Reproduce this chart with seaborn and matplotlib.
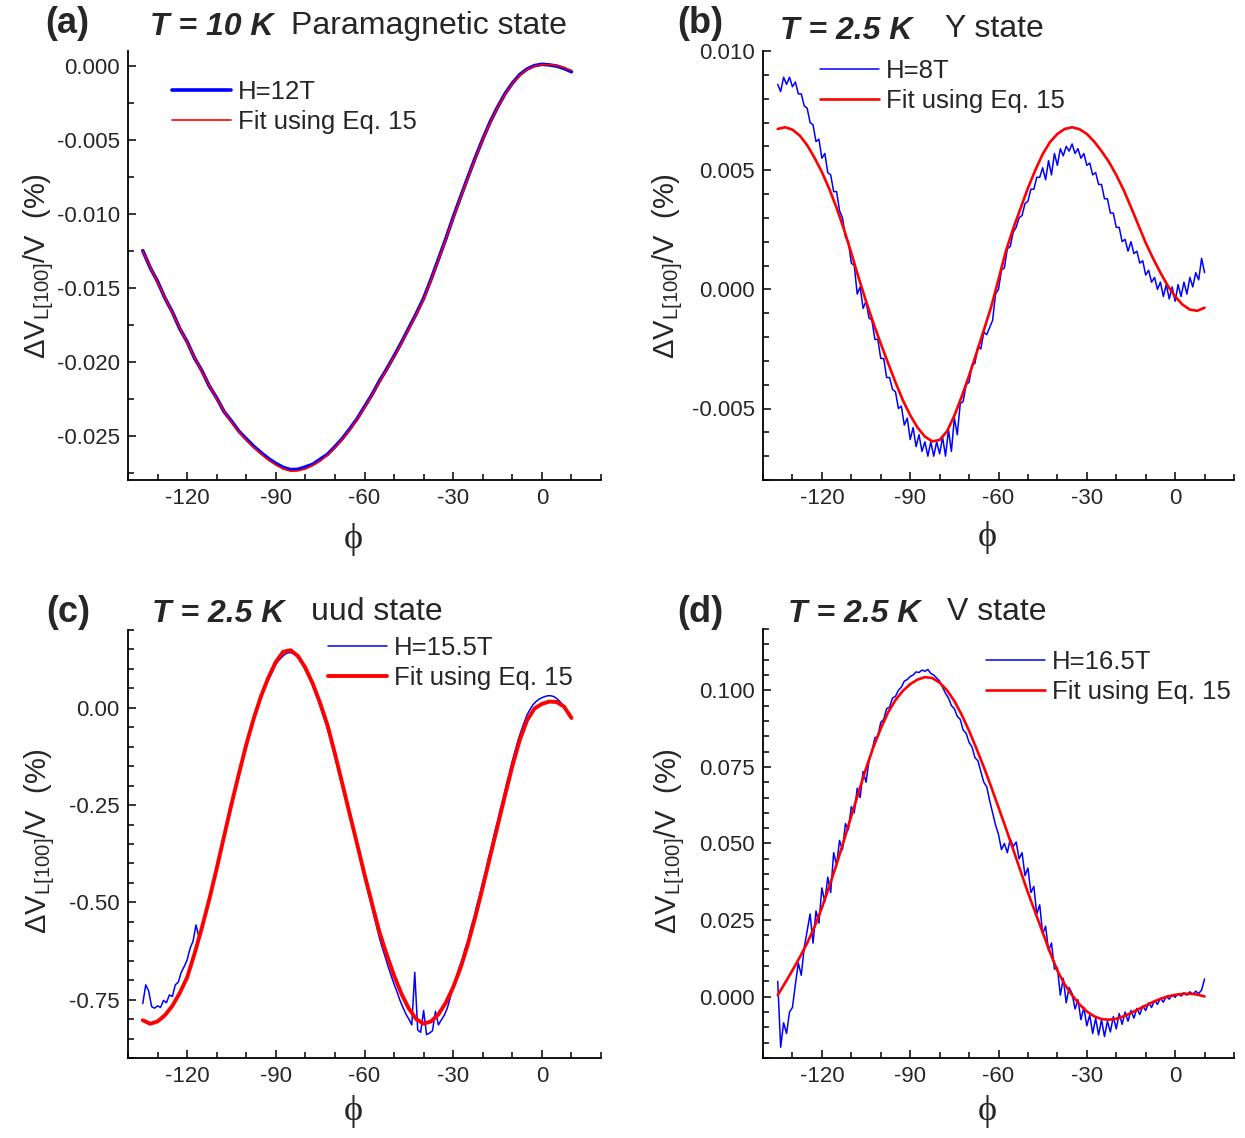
import numpy as np
import matplotlib
matplotlib.use("Agg")
import matplotlib.pyplot as plt
import seaborn as sns
from matplotlib.ticker import MultipleLocator, FuncFormatter

# angle grids (degrees)
phi_fit = np.arange(-135, 10.01, 2.5)   # fit curves
phi_meas = np.arange(-135, 11, 1)        # measured traces
phi_a_meas = phi_fit                     # panel a trace read at the fit spacing

# (a) T = 10 K, H = 12 T
a_meas = [-0.01250, -0.01364, -0.01458, -0.01570, -0.01665, -0.01776, -0.01866, -0.01975, -0.02062, -0.02165,
          -0.02246, -0.02338, -0.02402, -0.02470, -0.02522, -0.02572, -0.02615, -0.02655, -0.02688, -0.02715,
          -0.02730, -0.02728, -0.02712, -0.02694, -0.02660, -0.02626, -0.02575, -0.02520, -0.02455, -0.02386,
          -0.02305, -0.02224, -0.02133, -0.02050, -0.01962, -0.01870, -0.01773, -0.01676, -0.01572, -0.01444,
          -0.01308, -0.01170, -0.01024, -0.00887, -0.00752, -0.00620, -0.00496, -0.00380, -0.00280, -0.00190,
          -0.00118, -0.00060, -0.00022, 0.00001, 0.00010, 0.00006, -0.00002, -0.00018, -0.00040]
a_fit = [-0.01255, -0.01360, -0.01463, -0.01567, -0.01670, -0.01772, -0.01872, -0.01972, -0.02068, -0.02162,
         -0.02252, -0.02335, -0.02410, -0.02475, -0.02530, -0.02580, -0.02625, -0.02665, -0.02698, -0.02725,
         -0.02740, -0.02738, -0.02725, -0.02702, -0.02672, -0.02632, -0.02582, -0.02525, -0.02462, -0.02390,
         -0.02312, -0.02228, -0.02140, -0.02055, -0.01968, -0.01875, -0.01780, -0.01682, -0.01580, -0.01450,
         -0.01315, -0.01175, -0.01030, -0.00892, -0.00757, -0.00625, -0.00500, -0.00385, -0.00283, -0.00195,
         -0.00122, -0.00065, -0.00025, -0.00003, 0.00007, 0.00008, 0.00002, -0.00012, -0.00032]

# (b) T = 2.5 K, H = 8 T
b_meas = [0.0086, 0.0083, 0.0089, 0.0086, 0.0089, 0.0085, 0.0087, 0.0082, 0.0082, 0.0077,
          0.0076, 0.0070, 0.0069, 0.0062, 0.0063, 0.0055, 0.0057, 0.0049, 0.0048, 0.0041,
          0.0041, 0.0033, 0.0030, 0.0022, 0.0020, 0.0011, 0.0010, -0.0002, 0.0001, -0.0008,
          -0.0005, -0.0012, -0.0013, -0.0021, -0.0021, -0.0029, -0.0029, -0.0037, -0.0037, -0.0042,
          -0.0043, -0.0050, -0.0049, -0.0057, -0.0054, -0.0063, -0.0058, -0.0066, -0.0061, -0.0068,
          -0.0064, -0.0070, -0.0064, -0.0070, -0.0064, -0.0069, -0.0062, -0.0070, -0.0059, -0.0068,
          -0.0054, -0.0061, -0.0048, -0.0047, -0.0040, -0.0039, -0.0032, -0.0031, -0.0024, -0.0025,
          -0.0018, -0.0019, -0.0016, -0.0013, -0.0002, 0.0000, 0.0008, 0.0009, 0.0017, 0.0018,
          0.0024, 0.0026, 0.0030, 0.0031, 0.0036, 0.0037, 0.0042, 0.0042, 0.0047, 0.0047,
          0.0051, 0.0046, 0.0054, 0.0048, 0.0057, 0.0052, 0.0059, 0.0056, 0.0060, 0.0058,
          0.0061, 0.0057, 0.0059, 0.0055, 0.0057, 0.0052, 0.0053, 0.0048, 0.0049, 0.0044,
          0.0044, 0.0038, 0.0038, 0.0032, 0.0032, 0.0026, 0.0026, 0.0020, 0.0021, 0.0016,
          0.0020, 0.0015, 0.0016, 0.0011, 0.0012, 0.0006, 0.0008, 0.0003, 0.0005, 0.0000,
          0.0003, -0.0003, 0.0002, -0.0004, 0.0001, -0.0005, 0.0002, -0.0003, 0.0003, -0.0002,
          0.0005, 0.0001, 0.0007, 0.0004, 0.0013, 0.0007]
b_fit = [0.00673, 0.00680, 0.00670, 0.00645, 0.00605, 0.00552, 0.00492, 0.00422, 0.00342, 0.00252,
         0.00152, 0.00048, -0.00050, -0.00142, -0.00228, -0.00310, -0.00390, -0.00465, -0.00528, -0.00580,
         -0.00618, -0.00638, -0.00632, -0.00596, -0.00530, -0.00450, -0.00362, -0.00268, -0.00172, -0.00074,
         0.00042, 0.00160, 0.00255, 0.00340, 0.00425, 0.00500, 0.00567, 0.00618, 0.00652, 0.00673,
         0.00680, 0.00672, 0.00652, 0.00620, 0.00580, 0.00535, 0.00480, 0.00417, 0.00345, 0.00270,
         0.00195, 0.00130, 0.00070, 0.00015, -0.00030, -0.00064, -0.00085, -0.00090, -0.00077]

# (c) T = 2.5 K, H = 15.5 T
c_meas = [-0.760, -0.712, -0.728, -0.768, -0.772, -0.766, -0.770, -0.752, -0.758, -0.738,
          -0.742, -0.712, -0.705, -0.680, -0.665, -0.648, -0.618, -0.600, -0.558, -0.590,
          -0.568, -0.533, -0.507, -0.471, -0.446, -0.410, -0.382, -0.346, -0.318, -0.282,
          -0.252, -0.218, -0.190, -0.158, -0.128, -0.097, -0.070, -0.042, -0.020, 0.006,
          0.026, 0.046, 0.064, 0.080, 0.095, 0.112, 0.122, 0.130, 0.137, 0.141,
          0.142, 0.139, 0.133, 0.124, 0.112, 0.097, 0.082, 0.066, 0.046, 0.026,
          0.004, -0.020, -0.041, -0.068, -0.096, -0.126, -0.156, -0.188, -0.218, -0.249,
          -0.281, -0.310, -0.332, -0.368, -0.405, -0.436, -0.468, -0.498, -0.528, -0.560,
          -0.590, -0.616, -0.640, -0.665, -0.688, -0.710, -0.730, -0.752, -0.770, -0.787,
          -0.800, -0.815, -0.680, -0.828, -0.834, -0.778, -0.840, -0.836, -0.830, -0.780,
          -0.815, -0.802, -0.790, -0.772, -0.745, -0.716, -0.694, -0.668, -0.648, -0.620,
          -0.598, -0.565, -0.540, -0.508, -0.480, -0.447, -0.419, -0.384, -0.355, -0.321,
          -0.292, -0.259, -0.231, -0.197, -0.168, -0.137, -0.110, -0.082, -0.059, -0.038,
          -0.018, -0.004, 0.008, 0.016, 0.022, 0.026, 0.029, 0.031, 0.031, 0.029,
          0.024, 0.017, 0.008, -0.003, -0.014, -0.026]
c_fit = [-0.803, -0.812, -0.806, -0.790, -0.766, -0.733, -0.693, -0.632, -0.565, -0.492,
         -0.413, -0.330, -0.248, -0.170, -0.095, -0.028, 0.030, 0.078, 0.118, 0.144,
         0.148, 0.133, 0.103, 0.062, 0.012, -0.045, -0.118, -0.195, -0.273, -0.350,
         -0.428, -0.502, -0.575, -0.634, -0.688, -0.735, -0.773, -0.800, -0.812, -0.806,
         -0.788, -0.758, -0.718, -0.668, -0.607, -0.537, -0.461, -0.382, -0.304, -0.226,
         -0.150, -0.083, -0.032, -0.002, 0.010, 0.016, 0.015, 0.003, -0.026]

# (d) T = 2.5 K, H = 16.5 T
d_meas = [0.0050, -0.0165, -0.0085, -0.0120, -0.0050, -0.0035, 0.0040, 0.0110, 0.0070, 0.0160,
          0.0215, 0.0270, 0.0175, 0.0280, 0.0240, 0.0355, 0.0310, 0.0390, 0.0340, 0.0470,
          0.0430, 0.0510, 0.0480, 0.0565, 0.0545, 0.0620, 0.0600, 0.0680, 0.0650, 0.0735,
          0.0700, 0.0770, 0.0800, 0.0845, 0.0850, 0.0895, 0.0905, 0.0940, 0.0945, 0.0975,
          0.0980, 0.1000, 0.1010, 0.1030, 0.1035, 0.1045, 0.1050, 0.1060, 0.1058, 0.1066,
          0.1062, 0.1068, 0.1055, 0.1050, 0.1040, 0.1030, 0.1010, 0.0990, 0.0975, 0.0950,
          0.0940, 0.0915, 0.0905, 0.0870, 0.0860, 0.0830, 0.0815, 0.0780, 0.0770, 0.0735,
          0.0700, 0.0685, 0.0640, 0.0600, 0.0560, 0.0530, 0.0480, 0.0500, 0.0470, 0.0515,
          0.0490, 0.0505, 0.0450, 0.0470, 0.0395, 0.0420, 0.0340, 0.0360, 0.0270, 0.0300,
          0.0205, 0.0230, 0.0150, 0.0175, 0.0090, 0.0095, 0.0005, 0.0060, -0.0020, 0.0030,
          0.0010, -0.0040, -0.0010, -0.0075, -0.0035, -0.0095, -0.0060, -0.0120, -0.0070, -0.0125,
          -0.0075, -0.0130, -0.0080, -0.0115, -0.0065, -0.0105, -0.0055, -0.0090, -0.0050, -0.0080,
          -0.0045, -0.0070, -0.0038, -0.0058, -0.0030, -0.0045, -0.0020, -0.0035, -0.0012, -0.0025,
          -0.0005, -0.0018, 0.0001, -0.0008, 0.0006, -0.0002, 0.0010, 0.0002, 0.0013, 0.0005,
          0.0016, 0.0008, 0.0018, 0.0010, 0.0022, 0.0058]
d_fit = [0.0005, 0.0045, 0.0086, 0.0129, 0.0175, 0.0228, 0.0290, 0.0360, 0.0432, 0.0510,
         0.0590, 0.0668, 0.0745, 0.0815, 0.0875, 0.0928, 0.0968, 0.0998, 0.1020, 0.1035,
         0.1043, 0.1040, 0.1025, 0.1000, 0.0965, 0.0920, 0.0868, 0.0810, 0.0750, 0.0685,
         0.0618, 0.0550, 0.0480, 0.0410, 0.0340, 0.0275, 0.0210, 0.0145, 0.0085, 0.0040,
         0.0005, -0.0025, -0.0048, -0.0064, -0.0073, -0.0075, -0.0072, -0.0064, -0.0053, -0.0041,
         -0.0029, -0.0017, -0.0007, 0.0001, 0.0006, 0.0009, 0.0010, 0.0007, 0.0001]

sns.set_theme(style="ticks")
plt.rcParams['font.family'] = ['Liberation Sans', 'DejaVu Sans']
plt.rcParams['axes.unicode_minus'] = False
plt.rcParams['mathtext.default'] = 'regular'

W, H = 1245, 1138
fig = plt.figure(figsize=(W / 100, H / 100), dpi=100)


def fx(x):
    return x / W


def fy(y):
    return 1 - y / H


def tick_fmt(fmt):
    # avoid "-0.000" at the zero tick
    def f(v, pos):
        s = fmt % v
        if float(s) == 0:
            s = fmt % 0.0
        return s
    return FuncFormatter(f)


panels = [
    dict(box=(128, 51, 601, 480), px=phi_a_meas, meas=a_meas, fit=a_fit, field="H=12T",
         ylim=(-0.028, 0.001), major=0.005, minor=0.0025, fmt='%.3f',
         lw_meas=2.6, lw_fit=1.2,
         letter=("(a)", 45, 33), tpart=("T = 10 K", 150, 35), state=("Paramagnetic state", 291, 34),
         ylab=(39, 266), phi=(353, 540), leg=(172, 80)),
    dict(box=(763, 51, 1234, 480), px=phi_meas, meas=b_meas, fit=b_fit, field="H=8T",
         ylim=(-0.008, 0.010), major=0.005, minor=0.001, fmt='%.3f',
         lw_meas=1.1, lw_fit=1.9,
         letter=("(b)", 677, 33), tpart=("T = 2.5 K", 780, 39), state=("Y state", 945, 37),
         ylab=(668, 266), phi=(987, 537), leg=(820, 59)),
    dict(box=(128, 630, 601, 1058), px=phi_meas, meas=c_meas, fit=c_fit, field="H=15.5T",
         ylim=(-0.9, 0.2), major=0.25, minor=0.05, fmt='%.2f',
         lw_meas=1.1, lw_fit=2.8,
         letter=("(c)", 46, 622), tpart=("T = 2.5 K", 152, 622), state=("uud state", 311, 620),
         ylab=(40, 841), phi=(353, 1112), leg=(328, 636)),
    dict(box=(763, 629, 1234, 1058), px=phi_meas, meas=d_meas, fit=d_fit, field="H=16.5T",
         ylim=(-0.02, 0.12), major=0.025, minor=0.005, fmt='%.3f',
         lw_meas=1.1, lw_fit=1.9,
         letter=("(d)", 677, 622), tpart=("T = 2.5 K", 788, 622), state=("V state", 947, 620),
         ylab=(670, 841), phi=(987, 1112), leg=(986, 650)),
]

for p in panels:
    l, t, r, b = p["box"]
    ax = fig.add_axes([fx(l), fy(b), (r - l) / W, (b - t) / H])

    sns.lineplot(x=p["px"], y=p["meas"], ax=ax, color="#0000ff", lw=p["lw_meas"],
                 estimator=None, sort=False, label=p["field"])
    sns.lineplot(x=phi_fit, y=p["fit"], ax=ax, color="#ff0000", lw=p["lw_fit"],
                 estimator=None, sort=False, label="Fit using Eq. 15")

    ax.set_xlim(-140, 20)
    ax.set_ylim(*p["ylim"])
    ax.xaxis.set_major_locator(MultipleLocator(30))
    ax.xaxis.set_minor_locator(MultipleLocator(10))
    ax.yaxis.set_major_locator(MultipleLocator(p["major"]))
    ax.yaxis.set_minor_locator(MultipleLocator(p["minor"]))
    ax.yaxis.set_major_formatter(tick_fmt(p["fmt"]))
    ax.tick_params(which="both", direction="in", color="black", width=1.1,
                   labelsize=16, pad=6)
    ax.tick_params(which="major", length=6)
    ax.tick_params(which="minor", length=4)
    sns.despine(ax=ax)
    for s in ("left", "bottom"):
        ax.spines[s].set_color("black")
        ax.spines[s].set_linewidth(1.3)
    ax.set_xlabel("")
    ax.set_ylabel("")

    ax.legend(loc="upper left", bbox_to_anchor=(fx(p["leg"][0]), fy(p["leg"][1])),
              bbox_transform=fig.transFigure, frameon=False, fontsize=18.5,
              handlelength=2.3, handletextpad=0.25, labelspacing=0.25,
              borderpad=0, borderaxespad=0)

    txt, x0, y0 = p["letter"]
    fig.text(fx(x0), fy(y0), txt, fontsize=26, fontweight="bold", va="baseline", ha="left")
    txt, x0, y0 = p["tpart"]
    fig.text(fx(x0), fy(y0), txt, fontsize=23, fontweight="bold", fontstyle="italic",
             va="baseline", ha="left")
    txt, x0, y0 = p["state"]
    fig.text(fx(x0), fy(y0), txt, fontsize=23, va="baseline", ha="left")

    fig.text(fx(p["ylab"][0]), fy(p["ylab"][1]), "ΔV$_{L[100]}$/V  (%)", fontsize=21,
             rotation=90, rotation_mode="anchor", ha="center", va="center")
    fig.text(fx(p["phi"][0]), fy(p["phi"][1]), "\u03d5", fontsize=26,
             family=["Liberation Serif", "DejaVu Serif"], ha="center", va="center")

fig.savefig("out.png", dpi=100, facecolor="white")
